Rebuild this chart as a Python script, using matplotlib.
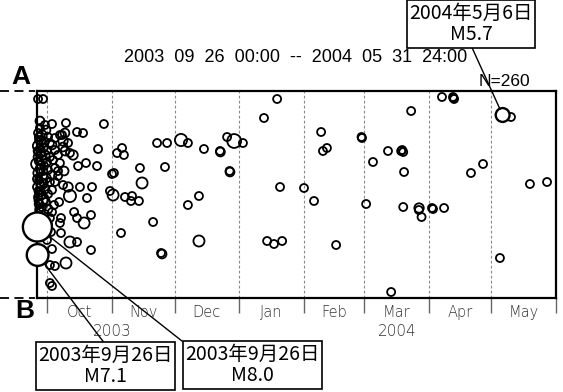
import numpy as np
import pandas as pd
import matplotlib.pyplot as plt

# Epicentre projection onto the A-B profile, 2003-09-26 .. 2004-05-31
start = pd.Timestamp('2003-09-26 00:00')
end = pd.Timestamp('2004-06-01 00:00')

# days since start / distance from A along the profile / magnitude
quake_day = [
    0.5, 2.9, 1.4, 3.8, 1.4, 4.3, 0.5, 2.4, 5.3, 1.0, 3.4, 6.2, 0.5, 2.9, 4.8, 1.4,
    3.8, 0.5, 6.2, 2.4, 4.8, 0.0, 3.4, 1.4, 5.3, 0.5, 2.9, 4.3, 1.0, 6.2, 2.4, 0.0,
    3.8, 1.4, 5.3, 0.5, 2.9, 4.3, 1.0, 2.4, 5.3, 1.4, 3.8, 0.5, 6.2, 2.9, 1.9, 0.3,
    2.0, 0.8, 1.8, 0.2, 1.6, 0.7, 2.2, 1.1, 0.3, 1.8, 3.2, 3.0, 0.9, 2.0,
    7.2, 8.6, 7.2, 8.6, 7.7, 8.6, 7.2, 8.6, 7.2, 8.2, 7.2, 5.3, 6.7, 4.8, 7.2, 6.2,
    8.6, 6.2, 7.2,
    11.0, 13.4, 12.0, 13.9, 19.2, 22.1, 12.5, 14.9, 12.5, 15.8, 10.1, 13.4, 17.3,
    11.0, 19.7, 23.5, 28.8, 10.1, 13.0, 10.1, 12.5, 14.9, 20.6, 26.4, 15.8, 10.6,
    24.0, 17.8, 11.5, 19.2, 22.6, 25.9, 11.0, 11.5, 15.8, 19.2, 25.9, 13.9, 29.3,
    32.1, 38.4, 40.8, 41.7, 36.0, 36.9, 35.0, 36.5, 42.2, 45.6, 45.1, 48.9, 40.3,
    49.4, 50.4, 55.7, 60.0, 59.5,
    57.6, 62.4, 69.1, 72.4, 80.1, 88.0, 87.8, 91.2, 94.6, 98.8, 92.6, 92.4, 61.4,
    72.4, 77.7, 77.7, 108.9, 115.2, 116.6, 110.4, 113.7, 117.6,
    128.1, 132.9, 136.3, 137.2, 139.1, 143.5, 155.9, 155.7, 157.9, 161.2, 168.4,
    169.9, 174.7, 175.2, 175.7, 176.1, 175.7, 179.5, 183.3, 183.2, 184.5, 189.5,
    190.0, 195.3, 194.3, 199.6, 199.8, 200.1, 208.2, 214.0, 222.1, 223.0, 227.4,
    236.5, 244.7,
]
quake_dist = [
    8, 8, 30, 34, 37, 39, 42, 44, 46, 49, 51, 52, 55, 57, 59, 61,
    64, 66, 66, 69, 71, 73, 75, 78, 79, 82, 85, 87, 89, 91, 93, 96,
    98, 101, 103, 106, 108, 111, 113, 116, 118, 121, 123, 125, 127, 129, 109, 60,
    62, 70, 74, 88, 94, 100, 104, 118, 131, 134, 92, 80, 46, 50,
    33, 47, 54, 59, 69, 77, 84, 91, 99, 114, 121, 134, 141, 149, 158, 174,
    175, 192, 195,
    44, 42, 44, 32, 41, 42, 50, 52, 56, 62, 64, 60, 64,
    72, 75, 72, 75, 80, 80, 85, 94, 96, 96, 96, 105, 111,
    107, 121, 127, 127, 132, 124, 132, 142, 151, 151, 159, 172, 58,
    33, 62, 57, 64, 83, 82, 100, 104, 106, 105, 110, 110, 142,
    77, 92, 131, 163, 162,
    52, 52, 49, 52, 58, 61, 60, 46, 50, 52, 81, 80, 76,
    114, 105, 150, 27, 8, 96, 150, 153, 150,
    97, 110, 41, 60, 57, 154, 47, 46, 113, 71, 60,
    201, 60, 59, 61, 81, 116, 20, 117, 119, 126, 117,
    118, 117, 6, 6, 7, 8, 82, 73, 167, 23, 26,
    93, 91,
]
quake_mag = [
    4.0, 4.0, 4.3, 4.0, 4.0, 4.3, 4.0, 4.5, 4.0, 4.0, 4.5, 4.0, 4.8, 4.3, 4.0, 5.0,
    4.5, 4.3, 4.0, 4.5, 4.0, 5.2, 4.0, 4.3, 4.0, 4.5, 4.0, 4.5, 4.0, 4.0, 4.8, 4.0,
    4.3, 4.5, 4.0, 4.0, 5.0, 4.0, 4.3, 4.0, 4.3, 4.5, 4.0, 4.0, 4.0, 4.3, 5.5, 4.0,
    4.0, 4.0, 4.0, 4.3, 4.0, 4.0, 4.0, 4.0, 4.0, 4.3, 4.0, 4.0, 4.0, 4.0,
    4.0, 4.0, 4.3, 4.0, 4.0, 4.0, 4.3, 4.0, 4.0, 4.0, 4.0, 4.0, 4.0, 4.0, 4.0, 4.0,
    4.0, 4.0, 4.0,
    4.0, 4.3, 4.0, 4.0, 4.0, 4.0, 4.5, 4.0, 4.3, 4.0, 4.0, 4.3, 4.5,
    4.0, 4.0, 4.0, 4.0, 4.0, 4.3, 4.0, 4.0, 4.5, 4.0, 4.0, 5.3, 4.0,
    4.0, 4.0, 4.0, 4.0, 5.0, 4.0, 4.0, 4.0, 5.0, 4.0, 4.0, 5.0, 4.0,
    4.0, 4.0, 4.0, 4.0, 4.0, 4.0, 4.0, 5.0, 4.0, 4.0, 4.0, 4.0, 4.0,
    4.0, 5.0, 4.0, 4.3, 4.0,
    4.0, 4.0, 5.3, 4.0, 4.0, 4.3, 4.0, 4.0, 5.7, 4.0, 4.3, 4.0, 4.0,
    4.0, 4.0, 5.0, 4.0, 4.0, 4.0, 4.0, 4.0, 4.0,
    4.0, 4.0, 4.0, 4.0, 4.0, 4.0, 4.0, 4.0, 4.0, 4.0, 4.0,
    4.0, 4.0, 4.0, 4.0, 4.0, 4.0, 4.0, 4.5, 4.0, 4.0, 4.0,
    4.0, 4.0, 4.0, 4.0, 4.0, 4.0, 4.0, 4.0, 4.0, 4.5, 4.0,
    4.0, 4.0,
]

# labelled events
big_day = [0.2, 0.3, 223.4]
big_dist = [136, 164, 24]
big_mag = [8.0, 7.1, 5.7]
big_text = ['2003年9月26日\nM8.0', '2003年9月26日\nM7.1', '2004年5月6日\nM5.7']

month_names = ['Oct', 'Nov', 'Dec', 'Jan', 'Feb', 'Mar', 'Apr', 'May']
year_names = ['2003', '2004']
n_events = 260
profile_len = 207

DPI = 100


def radius_px(m):
    return 4.0 * 10 ** (0.14 * (np.asarray(m) - 4.0))


def marker_s(m):
    d_pt = 2 * radius_px(m) * 72 / DPI
    return d_pt ** 2


fig = plt.figure(figsize=(5.63, 3.92), dpi=DPI)
W, H = 563, 392
ax = fig.add_axes([37 / W, 1 - 298 / H, (556 - 37) / W, (298 - 91) / H])

total_days = (end - start).days
ax.set_xlim(0, total_days)
ax.set_ylim(profile_len, 0)

months = pd.date_range('2003-10-01', '2004-06-01', freq='MS')
bounds = np.array([(m - start).days for m in months])

for b in bounds[:-1]:
    ax.axvline(b, color='#888888', lw=0.8, ls=(0, (2.5, 2)), zorder=1)

ax.scatter(quake_day, quake_dist, s=marker_s(quake_mag), facecolors='none',
           edgecolors='black', linewidths=1.3, clip_on=False, zorder=3)
ax.scatter(big_day, big_dist, s=marker_s(big_mag), facecolors='white',
           edgecolors='black', linewidths=1.7, clip_on=False, zorder=4)

for sp in ax.spines.values():
    sp.set_linewidth(1.6)

ax.set_yticks([])
ax.set_xticks(bounds)
ax.set_xticklabels([])
ax.tick_params(axis='x', direction='out', length=10.5, width=1.0, color='#666666')

mids = (bounds[:-1] + bounds[1:]) / 2
for x, name in zip(mids, month_names):
    ax.text(x, -0.068, name, transform=ax.get_xaxis_transform(), ha='center', va='center',
            fontsize=10.5, color='#333333', family='DejaVu Sans', fontweight='light')
year_x = [bounds[1], (bounds[3] + bounds[-1]) / 2]
for x, name in zip(year_x, year_names):
    ax.text(x, -0.16, name, transform=ax.get_xaxis_transform(), ha='center', va='center',
            fontsize=11, color='#333333', family='DejaVu Sans', fontweight='light')

title = '{}  {:02d}  {:02d}  00:00  --  {}  05  31  24:00'.format(
    start.year, start.month, start.day, end.year)
fig.text(296 / W, 1 - 58 / H, title, ha='center', va='center',
         fontsize=13, family='Liberation Sans')
fig.text(530 / W, 1 - 82 / H, 'N={}'.format(n_events), ha='right', va='center',
         fontsize=12.5, family='Liberation Sans')

fig.text(21 / W, 1 - 77 / H, 'A', ha='center', va='center', fontsize=19,
         fontweight='bold', family='Liberation Sans')
fig.text(25 / W, 1 - 311 / H, 'B', ha='center', va='center', fontsize=19,
         fontweight='bold', family='Liberation Sans')
for yy in (91, 298):
    fig.add_artist(plt.Line2D([0, 35 / W], [1 - yy / H] * 2, color='black',
                              lw=1.3, ls=(0, (5, 3)), transform=fig.transFigure))

box_pos = [(252.5, 392 - 365), (105.5, 392 - 366), (471, 392 - 24)]
box_rel = [(0.0, 1.0), (0.5, 1.0), (0.5, 0.0)]
for d, r, m, txt, pos, rel in zip(big_day, big_dist, big_mag, big_text, box_pos, box_rel):
    ax.annotate(txt, xy=(d, r), xytext=pos, textcoords='figure pixels',
                ha='center', va='center', multialignment='center', linespacing=1.05,
                fontsize=14, family=['Noto Sans CJK JP', 'DejaVu Sans'],
                bbox=dict(boxstyle='square,pad=0.12', fc='white', ec='black', lw=1.2),
                arrowprops=dict(arrowstyle='-', color='black', lw=1.0, relpos=rel,
                                shrinkA=0, shrinkB=float(radius_px(m)) * 72 / DPI),
                annotation_clip=False, zorder=5)

fig.savefig('out.png', dpi=DPI)
